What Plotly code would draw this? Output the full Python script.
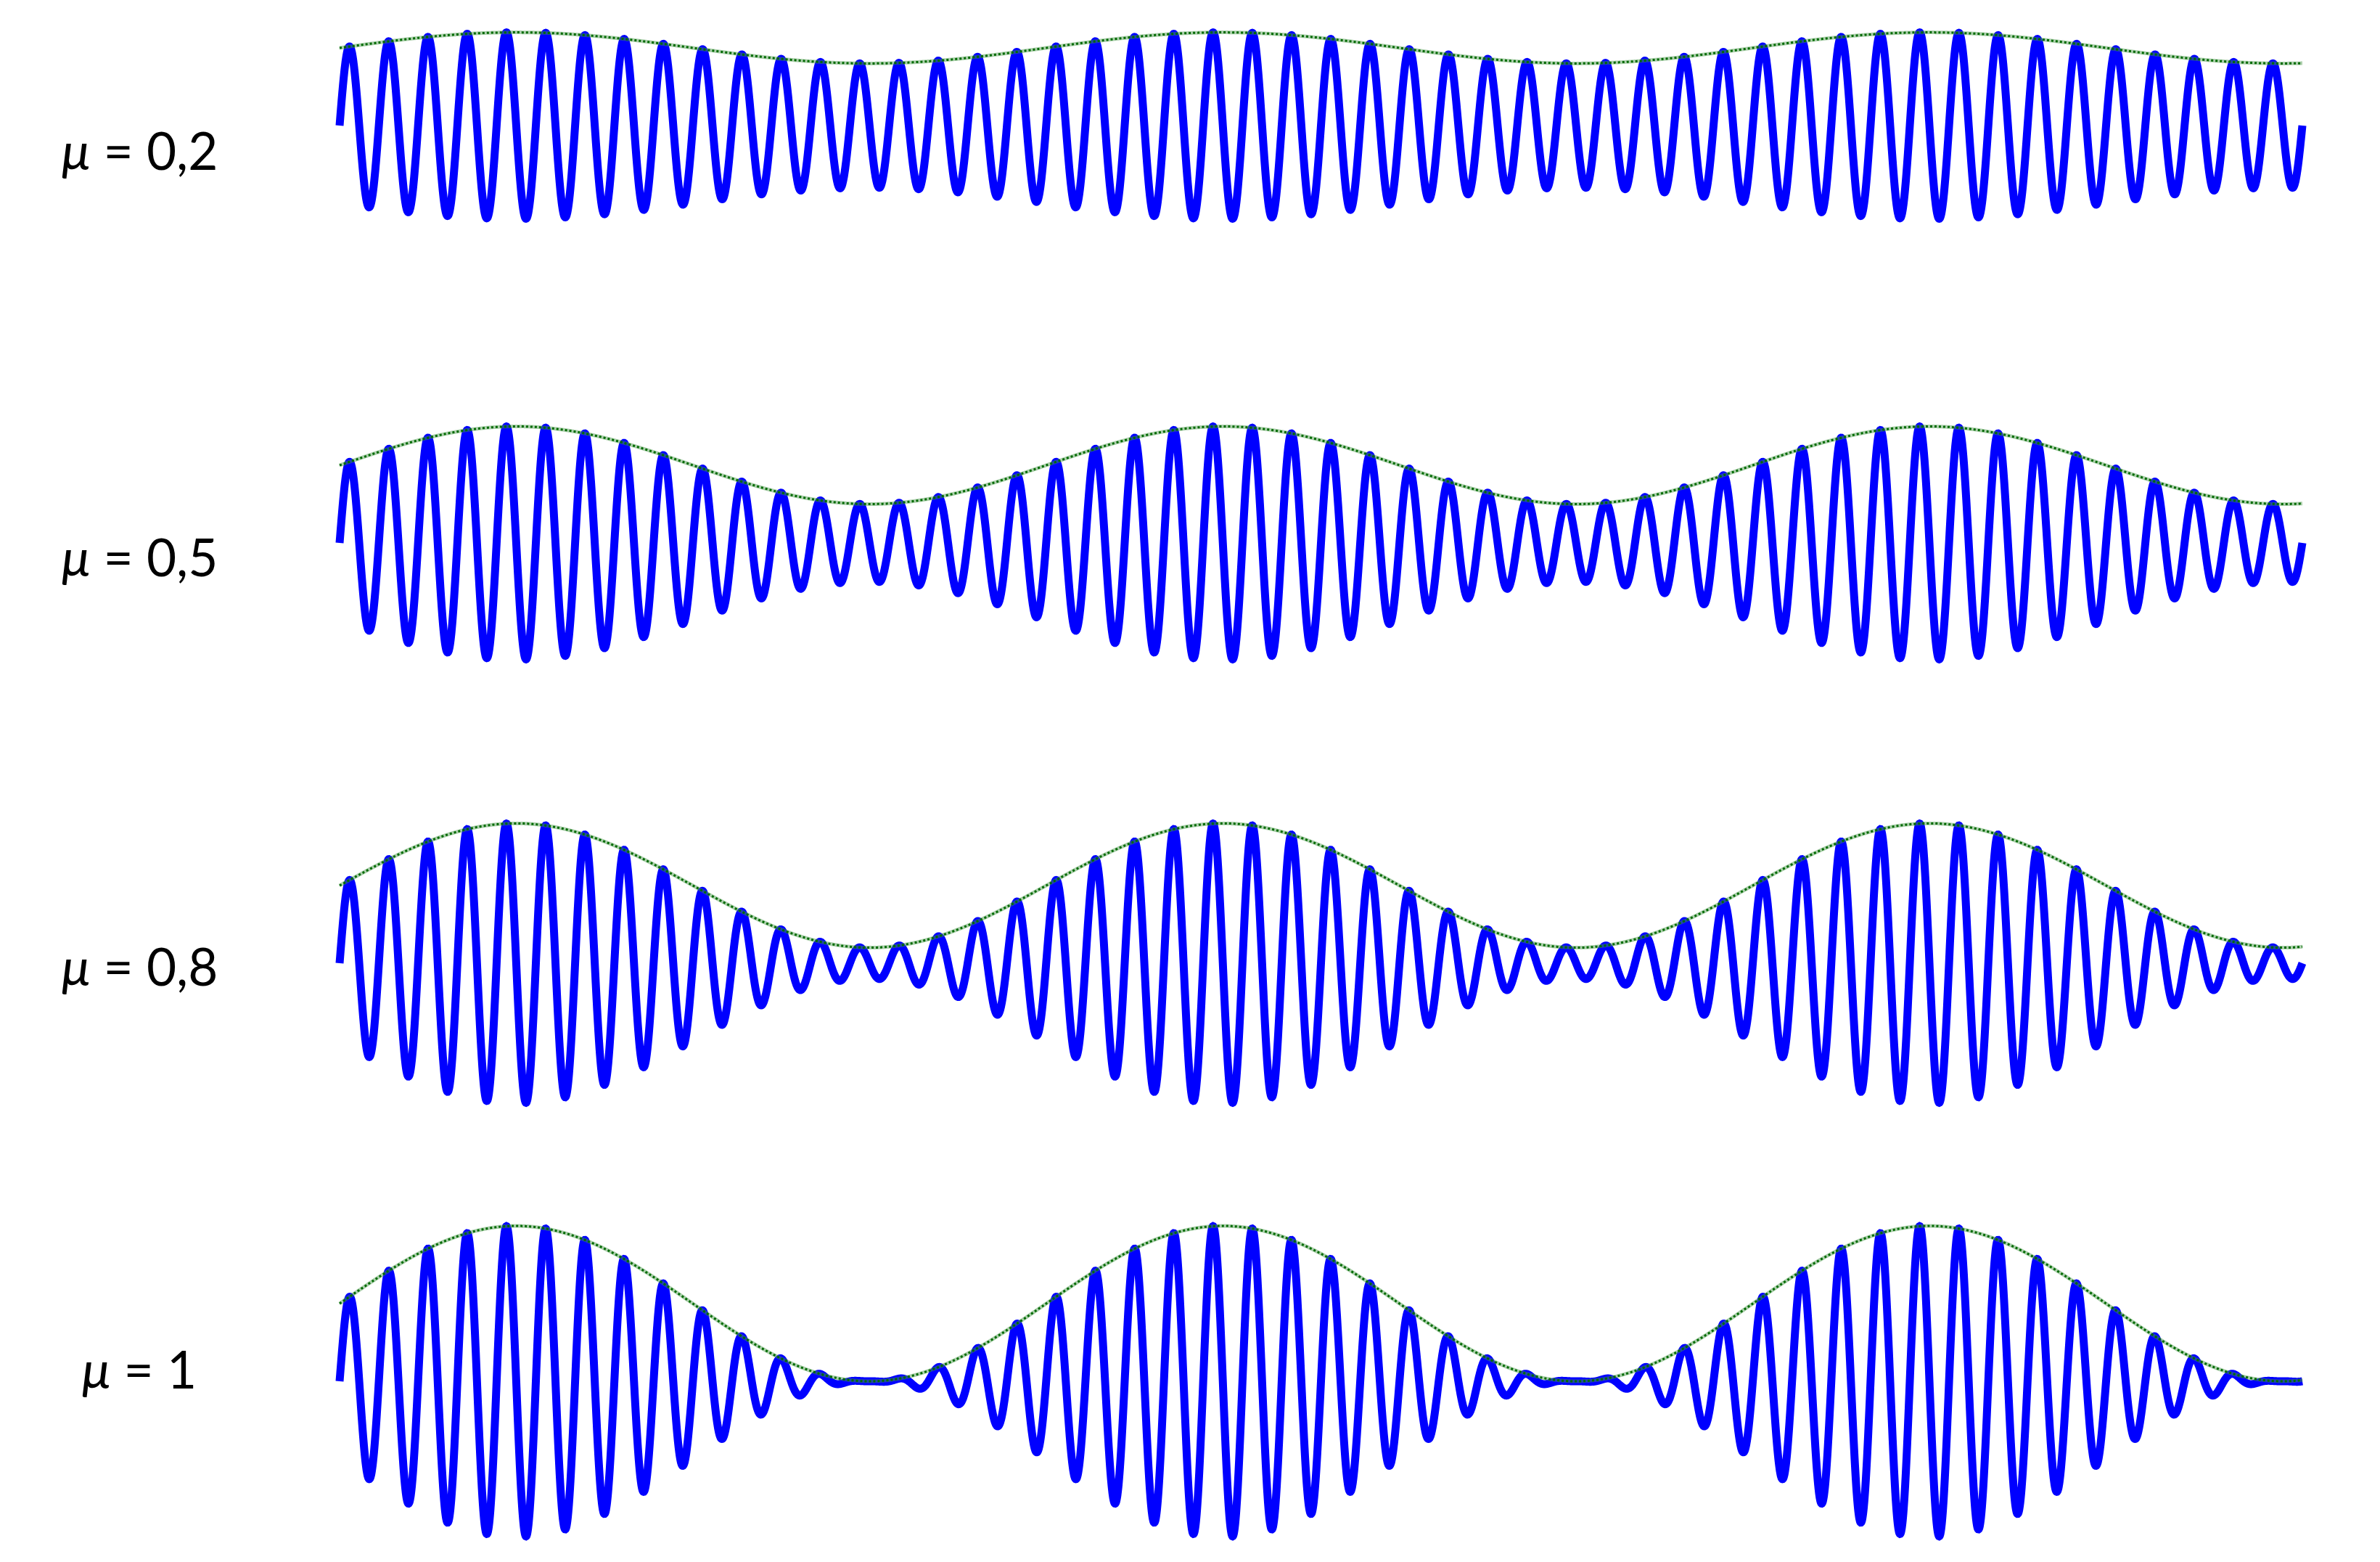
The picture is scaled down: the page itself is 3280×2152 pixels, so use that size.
import numpy as np
import plotly.graph_objects as go

# ---- data ----
mu_values = [0.2, 0.5, 0.8, 1.0]
mu_labels = ["<i>μ</i> = 0,2", "<i>μ</i> = 0,5", "<i>μ</i> = 0,8", "<i>μ</i> = 1"]
carrier_cycles = 50          # carrier periods shown in each panel
carrier_per_mod = 18         # carrier periods per modulation period
samples_per_cycle = 160

# ---- layout (pixels of the 3280x2152 page) ----
W, H = 3280, 2152
x_start_px, x_end_px = 468, 3173
dom_l_px, dom_r_px = 380, 3262
baseline_px = [173, 748, 1327, 1903]
half_px = [165, 262, 262, 245]
unit_px = 107
label_x_px = 192
label_y_px = [207, 766, 1330, 1885]

px_per_t = (x_end_px - x_start_px) / carrier_cycles
x_range = [-(x_start_px - dom_l_px) / px_per_t,
           carrier_cycles + (dom_r_px - x_end_px) / px_per_t]

t = np.linspace(0, carrier_cycles, carrier_cycles * samples_per_cycle + 1)

fig = go.Figure()
for i, mu in enumerate(mu_values):
    env = 1 + mu * np.sin(2 * np.pi * t / carrier_per_mod)
    sig = env * np.sin(2 * np.pi * t)
    yname = "y" if i == 0 else f"y{i+1}"
    fig.add_trace(go.Scatter(x=t, y=sig, mode="lines", yaxis=yname,
                             line=dict(color="#0000FF", width=11, simplify=False),
                             hoverinfo="skip", showlegend=False))
    fig.add_trace(go.Scatter(x=t, y=env, mode="lines", yaxis=yname,
                             line=dict(color="rgba(70,150,70,0.45)", width=5, simplify=False),
                             hoverinfo="skip", showlegend=False))
    fig.add_trace(go.Scatter(x=t, y=env, mode="lines", yaxis=yname,
                             line=dict(color="rgb(0,105,0)", width=3, dash="dot", simplify=False),
                             hoverinfo="skip", showlegend=False))

layout = dict(
    width=W, height=H,
    margin=dict(l=0, r=0, t=0, b=0),
    paper_bgcolor="white", plot_bgcolor="rgba(0,0,0,0)",
    showlegend=False,
    xaxis=dict(domain=[dom_l_px / W, dom_r_px / W], range=x_range,
               visible=False, showgrid=False, zeroline=False),
)
for i in range(len(mu_values)):
    B, h = baseline_px[i], half_px[i]
    key = "yaxis" if i == 0 else f"yaxis{i+1}"
    layout[key] = dict(domain=[1 - (B + h) / H, 1 - (B - h) / H],
                       range=[-h / unit_px, h / unit_px],
                       anchor="x", visible=False, showgrid=False, zeroline=False)
fig.update_layout(**layout)

for i, lab in enumerate(mu_labels):
    fig.add_annotation(text=lab, xref="paper", yref="paper",
                       x=label_x_px / W, y=1 - label_y_px[i] / H,
                       xanchor="center", yanchor="middle", showarrow=False,
                       font=dict(family="Lato", size=71, color="black"))

fig.write_html("out.html")
